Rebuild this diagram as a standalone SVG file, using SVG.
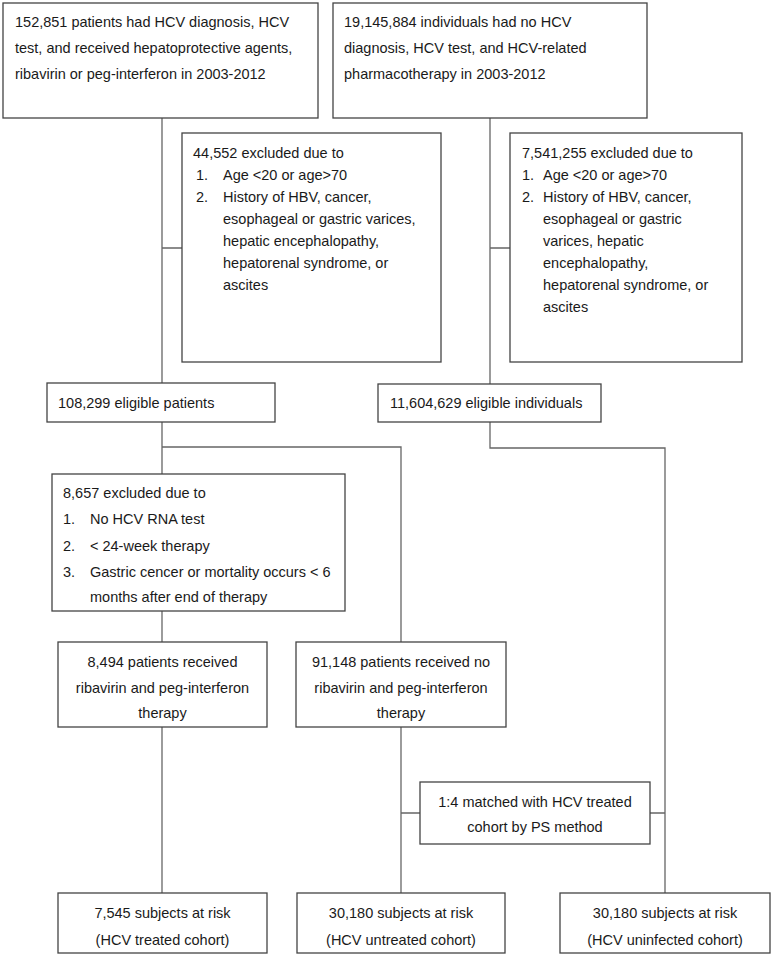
<svg xmlns="http://www.w3.org/2000/svg" width="773" height="957" viewBox="0 0 773 957">
<style>
.box{fill:#fff;stroke:#444;stroke-width:1.3}
.ln{fill:none;stroke:#666;stroke-width:1.3}
text{font-family:"Liberation Sans",Arial,sans-serif;font-size:14.5px;fill:#1a1a1a}
.c{text-anchor:middle}
</style>
<rect width="773" height="957" fill="#fff"/>
<g id="connectors">
<path class="ln" d="M162,118V383M162,248H182"/>
<path class="ln" d="M490,118V384M490,248H510"/>
<path class="ln" d="M162,422V474M162,447H401V642"/>
<path class="ln" d="M490,422V448H665V893"/>
<path class="ln" d="M162,611V642"/>
<path class="ln" d="M162,727V893"/>
<path class="ln" d="M401,727V893"/>
<path class="ln" d="M401,813H420M650,813H665"/>
</g>
<g id="n1">
<rect class="box" x="3" y="3" width="315" height="115"/>
<text x="15" y="27">152,851 patients had HCV diagnosis, HCV</text>
<text x="15" y="53">test, and received hepatoprotective agents,</text>
<text x="15" y="79">ribavirin or peg-interferon in 2003-2012</text>
</g>
<g id="n2">
<rect class="box" x="333" y="3" width="314" height="115"/>
<text x="344" y="27">19,145,884 individuals had no HCV</text>
<text x="344" y="53">diagnosis, HCV test, and HCV-related</text>
<text x="344" y="79">pharmacotherapy in 2003-2012</text>
</g>
<g id="n3">
<rect class="box" x="182" y="133" width="259" height="229"/>
<text x="193" y="158">44,552 excluded due to</text>
<text x="196" y="180">1.</text><text x="223" y="180">Age &lt;20 or age&gt;70</text>
<text x="196" y="202">2.</text><text x="223" y="202">History of HBV, cancer,</text>
<text x="223" y="224">esophageal or gastric varices,</text>
<text x="223" y="246">hepatic encephalopathy,</text>
<text x="223" y="268">hepatorenal syndrome, or</text>
<text x="223" y="290">ascites</text>
</g>
<g id="n4">
<rect class="box" x="510" y="133" width="232" height="229"/>
<text x="522" y="158">7,541,255 excluded due to</text>
<text x="522" y="180">1.</text><text x="543" y="180">Age &lt;20 or age&gt;70</text>
<text x="522" y="202">2.</text><text x="543" y="202">History of HBV, cancer,</text>
<text x="543" y="224">esophageal or gastric</text>
<text x="543" y="246">varices, hepatic</text>
<text x="543" y="268">encephalopathy,</text>
<text x="543" y="290">hepatorenal syndrome, or</text>
<text x="543" y="312">ascites</text>
</g>
<g id="n5">
<rect class="box" x="47" y="383" width="228" height="39"/>
<text x="58" y="408">108,299 eligible patients</text>
</g>
<g id="n6">
<rect class="box" x="378" y="384" width="223" height="38"/>
<text x="390" y="408">11,604,629 eligible individuals</text>
</g>
<g id="n7">
<rect class="box" x="52" y="474" width="293" height="137"/>
<text x="63" y="498">8,657 excluded due to</text>
<text x="63" y="524">1.</text><text x="90" y="524">No HCV RNA test</text>
<text x="63" y="551">2.</text><text x="90" y="551">&lt; 24-week therapy</text>
<text x="63" y="577">3.</text><text x="90" y="577">Gastric cencer or mortality occurs &lt; 6</text>
<text x="90" y="602">months after end of therapy</text>
</g>
<g id="n8">
<rect class="box" x="58" y="642" width="209" height="85"/>
<text class="c" x="162.5" y="667">8,494 patients received</text>
<text class="c" x="162.5" y="693">ribavirin and peg-interferon</text>
<text class="c" x="162.5" y="718">therapy</text>
</g>
<g id="n9">
<rect class="box" x="296" y="642" width="210" height="85"/>
<text class="c" x="401" y="667">91,148 patients received no</text>
<text class="c" x="401" y="693">ribavirin and peg-interferon</text>
<text class="c" x="401" y="718">therapy</text>
</g>
<g id="n10">
<rect class="box" x="420" y="782" width="230" height="62"/>
<text class="c" x="535" y="807">1:4 matched with HCV treated</text>
<text class="c" x="535" y="832">cohort by PS method</text>
</g>
<g id="n11">
<rect class="box" x="58" y="893" width="209" height="60"/>
<text class="c" x="162.5" y="918">7,545 subjects at risk</text>
<text class="c" x="162.5" y="945">(HCV treated cohort)</text>
</g>
<g id="n12">
<rect class="box" x="297" y="893" width="208" height="60"/>
<text class="c" x="401" y="918">30,180 subjects at risk</text>
<text class="c" x="401" y="945">(HCV untreated cohort)</text>
</g>
<g id="n13">
<rect class="box" x="560" y="893" width="210" height="60"/>
<text class="c" x="665" y="918">30,180 subjects at risk</text>
<text class="c" x="665" y="945">(HCV uninfected cohort)</text>
</g>
</svg>
